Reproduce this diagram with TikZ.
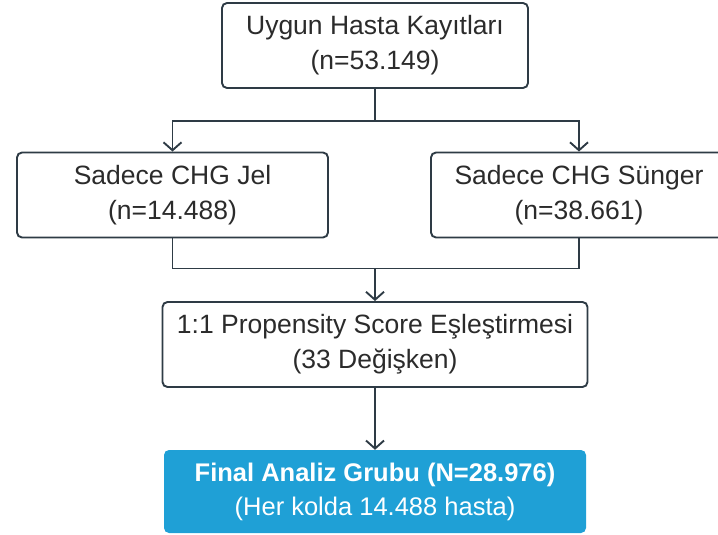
\documentclass[tikz,border=0pt]{standalone}
\usepackage{fontspec}
\setmainfont{Liberation Sans}
\usetikzlibrary{arrows.meta, positioning}
\definecolor{fline}{HTML}{2E3B45}
\definecolor{ftext}{HTML}{2B2B2B}
\definecolor{fblue}{HTML}{1FA0D6}
\tikzset{
  fbox/.style={draw=fline, line width=1.9pt, fill=white, rounded corners=5pt,
               align=center, font=\fontsize{26.5}{35}\selectfont, text=ftext,
               inner sep=0pt, minimum height=85pt},
  finalbox/.style={draw=none, fill=fblue, rounded corners=5pt,
                   align=center, font=\fontsize{25.5}{34}\selectfont, text=white,
                   inner sep=0pt, minimum height=83pt},
  conn/.style={line width=1.9pt, fline},
  arr/.style={conn, -{Straight Barb[length=8pt, width=18pt, line width=1.9pt]}},
}
\begin{document}
\begin{tikzpicture}[x=1pt, y=1pt]
  \clip (0,0) rectangle (718,-535);
  \useasboundingbox (0,0) rectangle (718,-535);
  \node[fbox, minimum width=306pt] (kayit) at (375,-45.5) {Uygun Hasta Kayıtları\\(n=53.149)};
  \node[fbox, minimum width=311pt] (jel) at (172.5,-195) {Sadece CHG Jel\\(n=14.488)};
  \node[fbox, minimum width=296pt] (sunger) at (579,-195) {Sadece CHG Sünger\\(n=38.661)};
  \node[fbox, minimum width=425pt] (psm) at (375,-344.5) {1:1 Propensity Score Eşleştirmesi\\(33 Değişken)};
  \node[finalbox, minimum width=422pt] (final) at (375,-491.5) {\textbf{Final Analiz Grubu (N=28.976)}\\(Her kolda 14.488 hasta)};
  % dallanma
  \coordinate[below=32pt of kayit.south] (split);
  \draw[conn] (kayit.south) -- (split);
  \draw[arr] (split) -| (jel.north);
  \draw[arr] (split) -| (sunger.north);
  % birleşme
  \coordinate[below=30pt of jel.south] (jelend);
  \draw[conn] (jel.south) -- (jelend) -| (sunger.south);
  \draw[arr] (jelend -| psm.north) -- (psm.north);
  \draw[arr] (psm.south) -- (final.north);
\end{tikzpicture}
\end{document}
